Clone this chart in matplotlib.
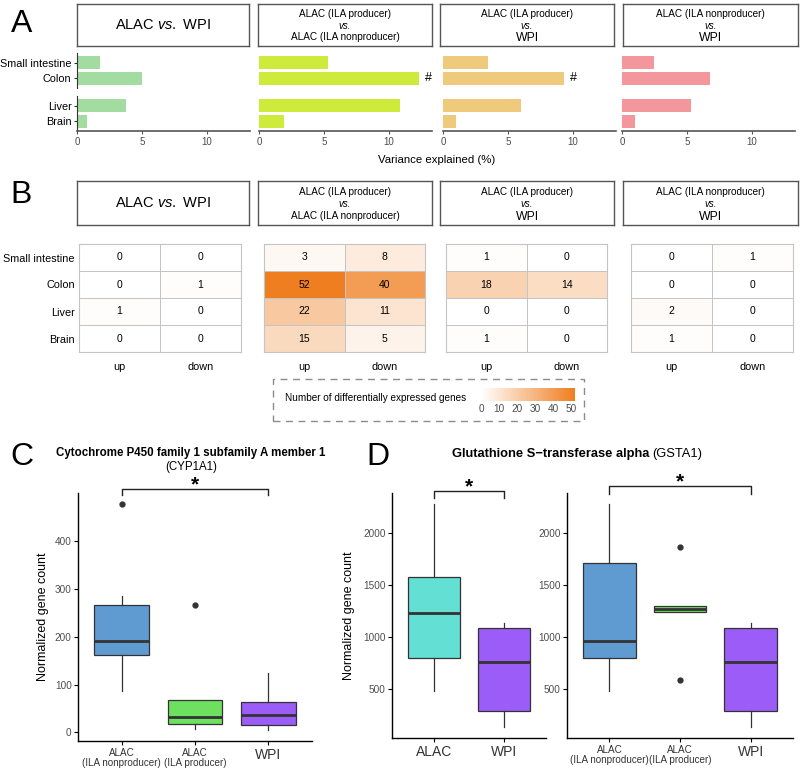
import numpy as np
import matplotlib
matplotlib.use('Agg')
import matplotlib.pyplot as plt
from matplotlib.colors import LinearSegmentedColormap, Normalize
from matplotlib.cm import ScalarMappable
from matplotlib.patches import Rectangle

plt.rcParams['font.family'] = ['Liberation Sans', 'DejaVu Sans']
plt.rcParams['mathtext.fontset'] = 'custom'
plt.rcParams['mathtext.rm'] = 'Liberation Sans'
plt.rcParams['mathtext.it'] = 'Liberation Sans:italic'

#----------------------------------------------------
# Data
comparisons = [
    ('$\\rm{ALAC}\\ \\it{vs.}\\ \\rm{WPI}$',),
    ('ALAC (ILA producer)', 'vs.', 'ALAC (ILA nonproducer)'),
    ('ALAC (ILA producer)', 'vs.', 'WPI'),
    ('ALAC (ILA nonproducer)', 'vs.', 'WPI'),
]
tissues = ['Small intestine', 'Colon', 'Liver', 'Brain']

# panel A: variance explained (%) per tissue
var_alac_wpi = [1.8, 5.0, 3.8, 0.8]
var_prod_nonprod = [5.3, 12.3, 10.85, 1.95]
var_prod_wpi = [3.45, 9.3, 6.0, 1.0]
var_nonprod_wpi = [2.45, 6.75, 5.3, 1.0]
variance = [var_alac_wpi, var_prod_nonprod, var_prod_wpi, var_nonprod_wpi]
hash_marks = [[], ['Colon'], ['Colon'], []]
bar_colors = ['#a3dca1', '#ceeb3c', '#f0ca7c', '#f3979c']

# panel B: number of DE genes (rows = tissues)
deg_up = [[0, 0, 1, 0], [3, 52, 22, 15], [1, 18, 0, 1], [0, 0, 2, 1]]
deg_down = [[0, 1, 0, 0], [8, 40, 11, 5], [0, 14, 0, 0], [1, 0, 0, 0]]
deg_ticks = [0, 10, 20, 30, 40, 50]

# panel C: CYP1A1 boxplot summary
cyp_groups = ['ALAC\n(ILA nonproducer)', 'ALAC\n(ILA producer)', 'WPI']
cyp_q1 = [162, 17, 15]
cyp_med = [191, 33, 36]
cyp_q3 = [266, 68, 64]
cyp_lo = [86, 8, 6]
cyp_hi = [285, 68, 125]
cyp_out = [[476], [266], []]
cyp_colors = ['#5f9bd1', '#6ee060', '#9b5cf7']

# panel D: GSTA1 boxplot summary
gst2_groups = ['ALAC', 'WPI']
gst2_q1 = [794, 283]
gst2_med = [1231, 759]
gst2_q3 = [1576, 1087]
gst2_lo = [481, 129]
gst2_hi = [2272, 1129]
gst2_out = [[], []]
gst2_colors = ['#63dfd3', '#9b5cf7']

gst3_groups = ['ALAC\n(ILA nonproducer)', 'ALAC\n(ILA producer)', 'WPI']
gst3_q1 = [794, 1235, 283]
gst3_med = [960, 1269, 759]
gst3_q3 = [1704, 1298, 1087]
gst3_lo = [481, 1235, 129]
gst3_hi = [2272, 1298, 1129]
gst3_out = [[], [586, 1863], []]
gst3_colors = ['#5f9bd1', '#6ee060', '#9b5cf7']

#----------------------------------------------------
W, H = 800, 772
fig = plt.figure(figsize=(W / 100, H / 100), dpi=100)
fig.patch.set_facecolor('white')


def add_ax(x0, y0, x1, y1):
    '''Axes from pixel box (top-left origin)'''
    return fig.add_axes([x0 / W, 1 - y1 / H, (x1 - x0) / W, (y1 - y0) / H])


def fig_text(x, y, s, **kw):
    return fig.text(x / W, 1 - y / H, s, **kw)


def strip(x0, y0, x1, y1, lines):
    ax = add_ax(x0, y0, x1, y1)
    ax.set_xticks([])
    ax.set_yticks([])
    for sp in ax.spines.values():
        sp.set_edgecolor('#555555')
        sp.set_linewidth(1.0)
    if len(lines) == 1:
        ax.text(0.5, 0.5, lines[0], ha='center', va='center', fontsize=10.5)
        return
    big = lines[2] == 'WPI'
    ax.text(0.5, 0.76, lines[0], ha='center', va='center', fontsize=7.2)
    ax.text(0.5, 0.47, lines[1], ha='center', va='center', fontsize=7, style='italic')
    ax.text(0.5, 0.18 if big else 0.21, lines[2], ha='center', va='center',
            fontsize=8.8 if big else 7.2)


strip_cols = [(77, 249), (258, 432), (440, 614), (623, 798)]

# ---------------- Panel A
fig_text(11, 31.5, 'A', fontsize=23)
for i, (x0, x1) in enumerate(strip_cols):
    strip(x0, 4, x1, 46, comparisons[i])

a_cols = [(77, 250), (259, 432), (443, 616), (622, 795)]
for i, (x0, x1) in enumerate(a_cols):
    for j, (y0, y1) in enumerate([(53, 88), (96, 131)]):
        ax = add_ax(x0, y0, x1, y1)
        names = tissues[2 * j:2 * j + 2]
        vals = variance[i][2 * j:2 * j + 2]
        pos = np.arange(len(names))
        ax.barh(pos, vals, height=0.8, color=bar_colors[i])
        for p, n, v in zip(pos, names, vals):
            if n in hash_marks[i]:
                ax.text(v + 0.45, p, '#', ha='left', va='center', fontsize=9)
        ax.set_ylim(1.6, -0.6)
        ax.set_xlim(0, 13.3)
        ax.spines['top'].set_visible(False)
        ax.spines['right'].set_visible(False)
        ax.spines['left'].set_color('#333333')
        ax.spines['bottom'].set_color('#555555')
        ax.spines['bottom'].set_linewidth(1.2)
        if i == 0:
            ax.set_yticks(pos, names)
            ax.tick_params(axis='y', length=2.5, labelsize=7.8, pad=1.5, color='#333333')
        else:
            ax.spines['left'].set_visible(False)
            ax.set_yticks([])
        if j == 1:
            ax.set_xticks([0, 5, 10])
            ax.tick_params(axis='x', length=2.5, labelsize=7, pad=1.5,
                           color='#555555', labelcolor='#4d4d4d')
        else:
            ax.spines['bottom'].set_visible(False)
            ax.set_xticks([])

fig_text(437, 160, 'Variance explained (%)', ha='center', va='center', fontsize=8.2)

# ---------------- Panel B
fig_text(10, 203, 'B', fontsize=23)
for i, (x0, x1) in enumerate(strip_cols):
    strip(x0, 181, x1, 225, comparisons[i])

deg_cmap = LinearSegmentedColormap.from_list('deg', ['#ffffff', '#ef7e20'])
deg_norm = Normalize(0, 52)
b_cols = [(79, 241), (264, 425), (446, 607), (631, 793)]
for i, (x0, x1) in enumerate(b_cols):
    ax = add_ax(x0, 244, x1, 352)
    grid = np.column_stack([deg_up[i], deg_down[i]])
    ax.pcolormesh(grid, cmap=deg_cmap, norm=deg_norm, edgecolors='#c4c4c4', linewidth=0.7)
    ax.set_ylim(len(tissues), 0)
    ax.set_xlim(0, 2)
    for r in range(grid.shape[0]):
        for c in range(grid.shape[1]):
            ax.text(c + 0.5, r + 0.5, str(grid[r, c]), ha='center', va='center', fontsize=7.5)
    ax.set_xticks([0.5, 1.5], ['up', 'down'])
    ax.tick_params(axis='x', length=0, labelsize=7.8, pad=7)
    if i == 0:
        ax.set_yticks(np.arange(len(tissues)) + 0.5, tissues)
        ax.tick_params(axis='y', length=0, labelsize=7.8, pad=3)
    else:
        ax.set_yticks([])
    for sp in ax.spines.values():
        sp.set_edgecolor('#c4c4c4')
        sp.set_linewidth(0.8)

# colour legend
fig.patches.append(Rectangle((273 / W, 1 - 421 / H), 311 / W, 42 / H, transform=fig.transFigure,
                             fill=False, edgecolor='#8c8c8c', linewidth=1.0,
                             linestyle=(0, (5, 4))))
fig_text(285, 398, 'Number of differentially expressed genes', ha='left', va='center', fontsize=7.2)
cax = add_ax(481, 388, 574.6, 401)
cb = fig.colorbar(ScalarMappable(norm=deg_norm, cmap=deg_cmap), cax=cax,
                  orientation='horizontal', ticks=deg_ticks)
cb.outline.set_visible(False)
cax.tick_params(length=0, labelsize=7.2, colors='#4d4d4d', pad=2)


# ---------------- Panels C, D
def box_panel(ax, groups, q1, med, q3, lo, hi, out, colors):
    stats = [dict(q1=a, med=m, q3=b, whislo=l, whishi=h, fliers=f)
             for a, m, b, l, h, f in zip(q1, med, q3, lo, hi, out)]
    pos = np.arange(1, len(groups) + 1)
    art = ax.bxp(stats, positions=pos, widths=0.75, patch_artist=True, showcaps=False,
                 boxprops=dict(edgecolor='#333333', linewidth=0.9),
                 medianprops=dict(color='#333333', linewidth=2.0),
                 whiskerprops=dict(color='#333333', linewidth=0.9),
                 flierprops=dict(marker='o', markerfacecolor='#333333', markeredgecolor='#333333',
                                 markersize=3.5, linestyle='none'))
    for patch, c in zip(art['boxes'], colors):
        patch.set_facecolor(c)
    ax.set_xlim(0.4, len(groups) + 0.6)
    ax.set_xticks(pos, groups)
    for lab, g in zip(ax.get_xticklabels(), groups):
        lab.set_fontsize(10 if '\n' not in g else 7.1)
        lab.set_linespacing(1.0)
    ax.spines['top'].set_visible(False)
    ax.spines['right'].set_visible(False)
    ax.spines['left'].set_linewidth(1.0)
    ax.spines['bottom'].set_linewidth(1.0)
    ax.tick_params(axis='x', length=3, pad=2, labelcolor='#333333')
    ax.tick_params(axis='y', length=3, labelsize=7.2, pad=1.5, labelcolor='#4d4d4d')


def bracket(ax, x0, x1, y, leg, star_dy):
    ax.plot([x0, x0, x1, x1], [y - leg, y, y, y - leg], color='#222222', lw=1.0, clip_on=False)
    ax.annotate('*', xy=((x0 + x1) / 2, y), xytext=(0, star_dy), textcoords='offset points',
                ha='center', va='baseline', fontsize=15, fontweight='bold', annotation_clip=False)


fig_text(10, 465, 'C', fontsize=23)
fig_text(191, 456, 'Cytochrome P450 family 1 subfamily A member 1', ha='center',
         fontsize=8.3, fontweight='bold')
fig_text(191, 470, '(CYP1A1)', ha='center', fontsize=8.3)
ax = add_ax(78, 493, 312, 741)
box_panel(ax, cyp_groups, cyp_q1, cyp_med, cyp_q3, cyp_lo, cyp_hi, cyp_out, cyp_colors)
ax.set_ylim(-18, 500)
ax.set_yticks([0, 100, 200, 300, 400])
ax.set_ylabel('Normalized gene count', fontsize=9, labelpad=4)
bracket(ax, 1, 3, 509, 14, -1)

fig_text(366, 465, 'D', fontsize=23)
fig_text(649, 457, 'Glutathione S\u2212transferase alpha', ha='right', fontsize=9.3,
         fontweight='bold')
fig_text(652, 457, '(GSTA1)', ha='left', fontsize=9.3)

ax = add_ax(392, 493, 546, 738)
box_panel(ax, gst2_groups, gst2_q1, gst2_med, gst2_q3, gst2_lo, gst2_hi, gst2_out, gst2_colors)
ax.set_ylim(25, 2380)
ax.set_yticks([500, 1000, 1500, 2000])
ax.set_ylabel('Normalized gene count', fontsize=9, labelpad=6)
bracket(ax, 1, 2, 2400, 70, -1)

ax = add_ax(567, 493, 793, 738)
box_panel(ax, gst3_groups, gst3_q1, gst3_med, gst3_q3, gst3_lo, gst3_hi, gst3_out, gst3_colors)
ax.set_ylim(25, 2380)
ax.set_yticks([500, 1000, 1500, 2000])
bracket(ax, 1, 3, 2448, 77, -1)

fig.savefig('out.png', dpi=100)
